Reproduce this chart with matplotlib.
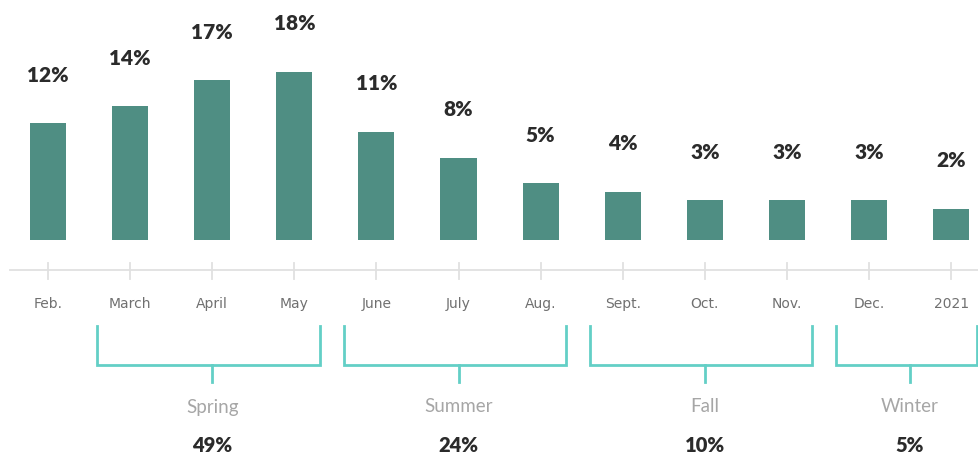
import matplotlib.pyplot as plt
import numpy as np

months = ["Feb.", "March", "April", "May", "June", "July", "Aug.",
          "Sept.", "Oct.", "Nov.", "Dec.", "2021"]
values = [12, 14, 17, 18, 11, 8, 5, 4, 3, 3, 3, 2]
seasons = ["Spring", "Summer", "Fall", "Winter"]
season_start = [1, 4, 7, 10]
season_end = [3, 6, 9, 11]

bar_color = "#4f8e83"
teal = "#63cfc6"
grid_gray = "#e0e0e0"

fig = plt.figure(figsize=(9.79, 4.58), dpi=100)
ax = fig.add_axes([0, 0, 1, 1])
ax.set_xlim(-0.585, 11.34)
ax.set_ylim(-27.1, 26.4)
ax.axis("off")

# bars start a bit below zero, like the original graphic
base = 1.63
x = np.arange(len(months))
ax.bar(x, np.array(values) + base, bottom=-base, width=0.44, color=bar_color)

for i, v in enumerate(values):
    ax.annotate(f"{v}%", (i, v), xytext=(0, 48), textcoords="offset pixels",
                ha="center", va="center", fontsize=15, fontweight="heavy",
                color="#2b2b2b", family="Lato")

# axis line, ticks and month labels (y in axes fraction)
tr = ax.get_xaxis_transform()


def fy(py):
    return 1 - py / 458


ax.plot([-0.46, 11.34], [fy(270), fy(270)], color=grid_gray, lw=1.3, transform=tr)
for i, m in enumerate(months):
    ax.plot([i, i], [fy(263), fy(279)], color=grid_gray, lw=1.3, transform=tr)
    ax.text(i, fy(304), m, ha="center", va="center", fontsize=10,
            color="#707070", family="DejaVu Sans", transform=tr)

# season brackets
for name, s, e in zip(seasons, season_start, season_end):
    left, right, mid = s - 0.4, e + 0.31, (s + e) / 2
    ax.plot([left, left, right, right], [fy(326), fy(365), fy(365), fy(326)],
            color=teal, lw=2, transform=tr, solid_joinstyle="miter")
    ax.plot([mid, mid], [fy(365), fy(382)], color=teal, lw=2, transform=tr)
    ax.text(mid, fy(407), name, ha="center", va="center", fontsize=13.5,
            color="#a6a6a6", family="Lato", transform=tr)
    total = sum(values[s:e + 1])
    ax.text(mid, fy(445), f"{total}%", ha="center", va="center", fontsize=14.5,
            fontweight="heavy", color="#2b2b2b", family="Lato", transform=tr)

fig.savefig("out.png", dpi=100)
